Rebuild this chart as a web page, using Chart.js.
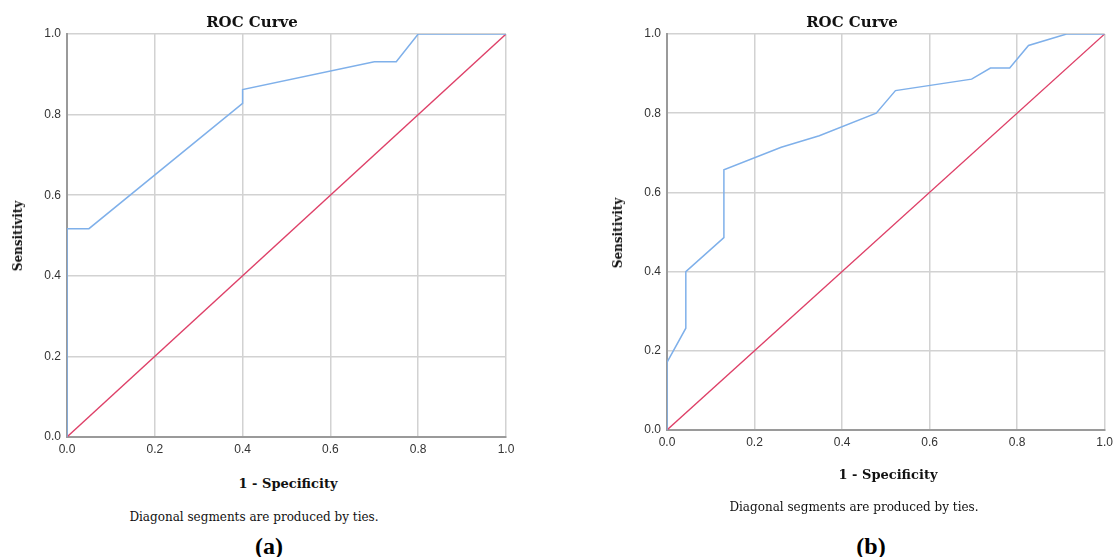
<!DOCTYPE html>
<html>
<head>
<meta charset="utf-8">
<script src="https://cdn.jsdelivr.net/npm/chart.js@4.4.1/dist/chart.umd.min.js"></script>
<style>
  body { margin: 0; background: #fff; width: 1113px; height: 557px; position: relative; overflow: hidden; }
  canvas { position: absolute; top: 0; }
  .lbl { position: absolute; transform: translate(-50%, -50%); white-space: nowrap; color: #111; }
  .title { font: bold 15px "DejaVu Serif", serif; }
  .axis { font: bold 13px "DejaVu Serif", serif; }
  .ylab { font: bold 12px "DejaVu Serif", serif; transform: translate(-50%, -50%) rotate(-90deg); }
  .note { font: 12px "DejaVu Serif", serif; }
  .panel { font: bold 24px "Liberation Serif", serif; color: #000; }
</style>
</head>
<body>
<canvas id="rocA" style="left:0px" width="556" height="470"></canvas>
<canvas id="rocB" style="left:560px" width="558" height="470"></canvas>

<div class="lbl title" style="left:252px; top:22px">ROC Curve</div>
<div class="lbl ylab" style="left:18px; top:236px">Sensitivity</div>
<div class="lbl axis" style="left:288px; top:483px">1 - Specificity</div>
<div class="lbl note" style="left:254px; top:517px">Diagonal segments are produced by ties.</div>
<div class="lbl panel" style="left:269px; top:546px">(a)</div>

<div class="lbl title" style="left:852px; top:22px">ROC Curve</div>
<div class="lbl ylab" style="left:618px; top:233px">Sensitivity</div>
<div class="lbl axis" style="left:888px; top:474px">1 - Specificity</div>
<div class="lbl note" style="left:854px; top:507px">Diagonal segments are produced by ties.</div>
<div class="lbl panel" style="left:871px; top:546px">(b)</div>

<script>
// tick labels, same on both axes
let tickLabels = ['0.0', '0.2', '0.4', '0.6', '0.8', '1.0'];

// panel (a): 1 - specificity and sensitivity
let fprA = [0, 0, 0.05, 0.4, 0.4, 0.7, 0.75, 0.8, 1];
let tprA = [0, 0.517, 0.517, 0.828, 0.862, 0.931, 0.931, 1, 1];

// panel (b)
let fprB = [0, 0, 0.043, 0.043, 0.13, 0.13, 0.261, 0.348, 0.478, 0.522, 0.696, 0.739, 0.783, 0.826, 0.913, 1];
let tprB = [0, 0.171, 0.257, 0.4, 0.486, 0.657, 0.714, 0.743, 0.8, 0.857, 0.886, 0.914, 0.914, 0.971, 1, 1];

// reference line
let refX = [0, 1];
let refY = [0, 1];

function toPoints(xs, ys) {
    return xs.map(function (x, i) { return { x: x, y: ys[i] }; });
}

function makeAxis(isX, size) {
    return {
        type: 'linear',
        min: 0,
        max: 1,
        ticks: {
            stepSize: 0.2,
            padding: isX ? 5 : 6,
            color: '#333',
            font: { family: 'Liberation Sans', size: 12 },
            callback: function (v, i) { return tickLabels[i]; }
        },
        grid: { color: '#d2d2d2', lineWidth: 1.5, drawTicks: false },
        border: { color: '#9a9a9a', width: 2 },
        afterFit: function (scale) {
            if (isX) scale.height = size; else scale.width = size;
        }
    };
}

function makeChart(id, fpr, tpr, yAxisWidth, pad) {
    const ctx = document.getElementById(id).getContext('2d');
    return new Chart(ctx, {
        type: 'scatter',
        data: {
            datasets: [{
                data: toPoints(fpr, tpr),
                showLine: true,
                borderColor: '#7fb0ea',
                borderWidth: 1.5,
                pointRadius: 0,
                fill: false
            }, {
                data: toPoints(refX, refY),
                showLine: true,
                borderColor: '#de4068',
                borderWidth: 1.3,
                pointRadius: 0,
                fill: false
            }]
        },
        options: {
            responsive: false,
            animation: false,
            layout: { padding: pad },
            plugins: { legend: { display: false }, tooltip: { enabled: false } },
            scales: {
                x: makeAxis(true, 20),
                y: makeAxis(false, yAxisWidth)
            }
        }
    });
}

// plot areas: (a) x 67..506, y 34..437 ; (b) x 667..1104, y 34..430
makeChart('rocA', fprA, tprA, 67, { left: 0, top: 34, right: 50, bottom: 13 });
makeChart('rocB', fprB, tprB, 107, { left: 0, top: 34, right: 0, bottom: 20 });
</script>
</body>
</html>
